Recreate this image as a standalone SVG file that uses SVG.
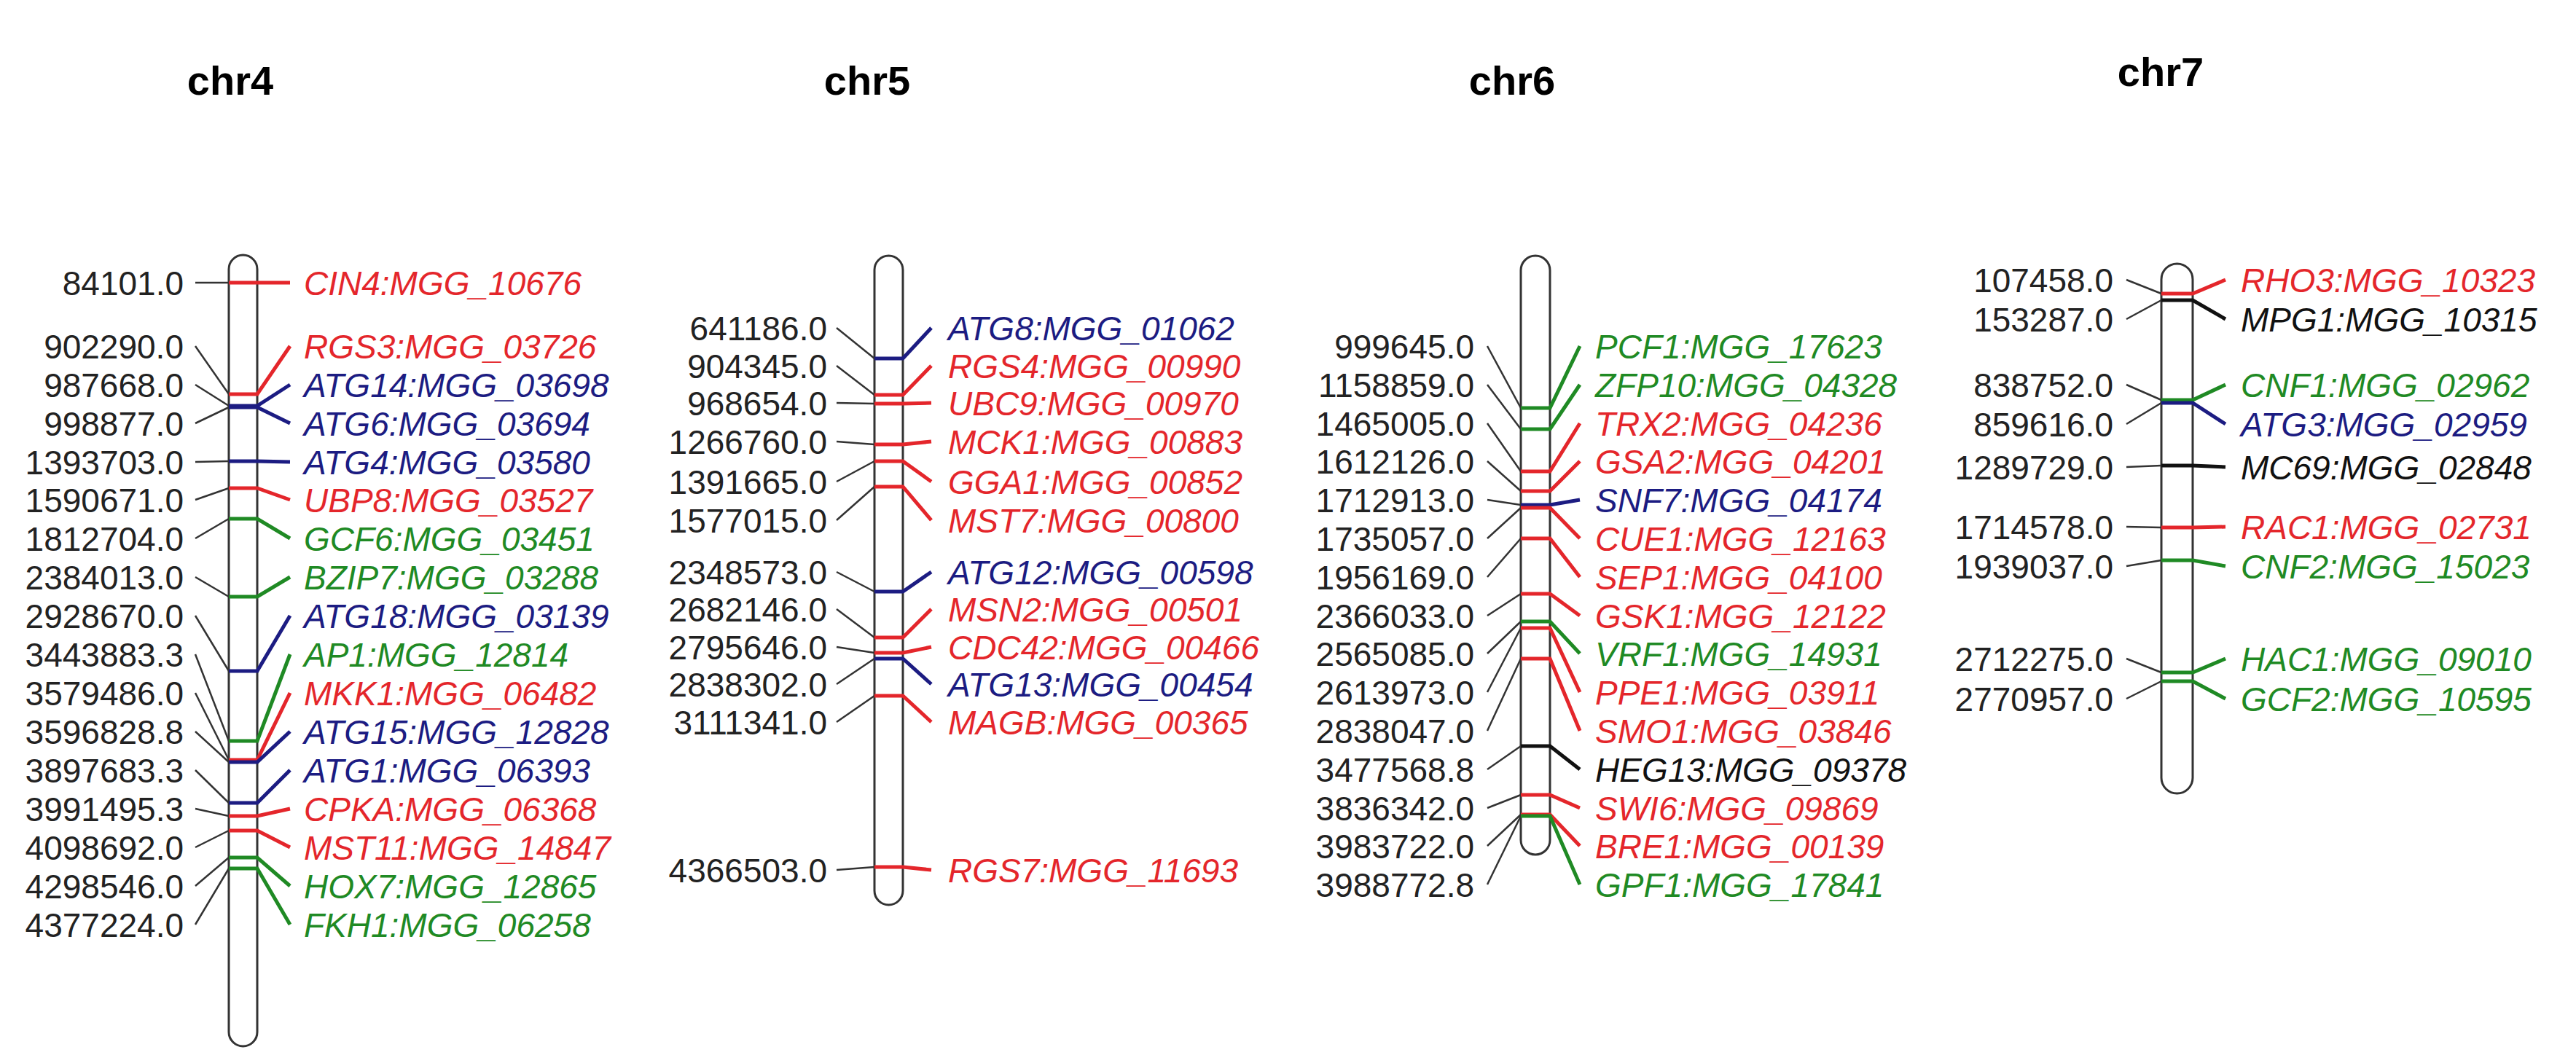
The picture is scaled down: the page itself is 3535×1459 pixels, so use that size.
<svg xmlns="http://www.w3.org/2000/svg" width="3535" height="1459" viewBox="0 0 3535 1459">
<style>
.t{font-family:"Liberation Sans",Arial,sans-serif;font-weight:bold;font-size:56px;fill:#000;text-anchor:middle}
.n{font-family:"Liberation Sans",Arial,sans-serif;font-size:46px;fill:#222;text-anchor:end}
.g{font-family:"Liberation Sans",Arial,sans-serif;font-size:46px;font-style:italic}
.chr{fill:#fff;stroke:#333;stroke-width:3}
.k{stroke:#333;stroke-width:2.5;fill:none}
.r{fill:#e4262b;stroke:#e4262b}
.b{fill:#1c1c82;stroke:#1c1c82}
.gr{fill:#1f8a24;stroke:#1f8a24}
.bk{fill:#111;stroke:#111}
polyline.m{stroke-width:5;fill:none}
text.r,text.b,text.gr,text.bk{stroke:none}
</style>
<rect width="3535" height="1459" fill="#fff"/>
<g id="chr4">
<text class="t" x="316" y="130">chr4</text>
<rect class="chr" x="314" y="350" width="39" height="1086" rx="19.5"/>
</g>
<g id="chr5">
<text class="t" x="1190" y="130">chr5</text>
<rect class="chr" x="1200" y="351" width="39" height="891" rx="19.5"/>
</g>
<g id="chr6">
<text class="t" x="2075" y="130">chr6</text>
<rect class="chr" x="2087" y="351" width="40" height="822" rx="20"/>
</g>
<g id="chr7">
<text class="t" x="2965" y="118">chr7</text>
<rect class="chr" x="2966" y="362" width="43" height="727" rx="21.5"/>
</g>
<g id="connectors">
<polyline class="k" points="268,388 314,388"/><polyline class="m r" points="314,388 353,388 398,388"/>
<polyline class="k" points="268,475 314,541"/><polyline class="m r" points="314,541 353,541 398,475"/>
<polyline class="k" points="268,528 314,557"/><polyline class="m b" points="314,557 353,557 398,528"/>
<polyline class="k" points="268,581 314,559"/><polyline class="m b" points="314,559 353,559 398,581"/>
<polyline class="k" points="268,634 314,633"/><polyline class="m b" points="314,633 353,633 398,634"/>
<polyline class="k" points="268,686 314,670"/><polyline class="m r" points="314,670 353,670 398,686"/>
<polyline class="k" points="268,739 314,712"/><polyline class="m gr" points="314,712 353,712 398,739"/>
<polyline class="k" points="268,792 314,819"/><polyline class="m gr" points="314,819 353,819 398,792"/>
<polyline class="k" points="268,845 314,921"/><polyline class="m b" points="314,921 353,921 398,845"/>
<polyline class="k" points="268,898 314,1017"/><polyline class="m gr" points="314,1017 353,1017 398,898"/>
<polyline class="k" points="268,951 314,1043"/><polyline class="m r" points="314,1043 353,1043 398,951"/>
<polyline class="k" points="268,1004 314,1046"/><polyline class="m b" points="314,1046 353,1046 398,1004"/>
<polyline class="k" points="268,1057 314,1102"/><polyline class="m b" points="314,1102 353,1102 398,1057"/>
<polyline class="k" points="268,1110 314,1120"/><polyline class="m r" points="314,1120 353,1120 398,1110"/>
<polyline class="k" points="268,1163 314,1140"/><polyline class="m r" points="314,1140 353,1140 398,1163"/>
<polyline class="k" points="268,1216 314,1177"/><polyline class="m gr" points="314,1177 353,1177 398,1216"/>
<polyline class="k" points="268,1269 314,1192"/><polyline class="m gr" points="314,1192 353,1192 398,1269"/>
<polyline class="k" points="1148,450 1200,492"/><polyline class="m b" points="1200,492 1239,492 1278,450"/>
<polyline class="k" points="1148,502 1200,542"/><polyline class="m r" points="1200,542 1239,542 1278,502"/>
<polyline class="k" points="1148,553 1200,554"/><polyline class="m r" points="1200,554 1239,554 1278,553"/>
<polyline class="k" points="1148,606 1200,610"/><polyline class="m r" points="1200,610 1239,610 1278,606"/>
<polyline class="k" points="1148,661 1200,633"/><polyline class="m r" points="1200,633 1239,633 1278,661"/>
<polyline class="k" points="1148,714 1200,668"/><polyline class="m r" points="1200,668 1239,668 1278,714"/>
<polyline class="k" points="1148,785 1200,812"/><polyline class="m b" points="1200,812 1239,812 1278,785"/>
<polyline class="k" points="1148,836 1200,875"/><polyline class="m r" points="1200,875 1239,875 1278,836"/>
<polyline class="k" points="1148,888 1200,896"/><polyline class="m r" points="1200,896 1239,896 1278,888"/>
<polyline class="k" points="1148,939 1200,904"/><polyline class="m b" points="1200,904 1239,904 1278,939"/>
<polyline class="k" points="1148,991 1200,955"/><polyline class="m r" points="1200,955 1239,955 1278,991"/>
<polyline class="k" points="1148,1194 1200,1190"/><polyline class="m r" points="1200,1190 1239,1190 1278,1194"/>
<polyline class="k" points="2041,475 2087,560"/><polyline class="m gr" points="2087,560 2127,560 2168,475"/>
<polyline class="k" points="2041,528 2087,589"/><polyline class="m gr" points="2087,589 2127,589 2168,528"/>
<polyline class="k" points="2041,581 2087,647"/><polyline class="m r" points="2087,647 2127,647 2168,581"/>
<polyline class="k" points="2041,633 2087,674"/><polyline class="m r" points="2087,674 2127,674 2168,633"/>
<polyline class="k" points="2041,686 2087,693"/><polyline class="m b" points="2087,693 2127,693 2168,686"/>
<polyline class="k" points="2041,739 2087,697"/><polyline class="m r" points="2087,697 2127,697 2168,739"/>
<polyline class="k" points="2041,792 2087,739"/><polyline class="m r" points="2087,739 2127,739 2168,792"/>
<polyline class="k" points="2041,845 2087,815"/><polyline class="m r" points="2087,815 2127,815 2168,845"/>
<polyline class="k" points="2041,897 2087,853"/><polyline class="m gr" points="2087,853 2127,853 2168,897"/>
<polyline class="k" points="2041,950 2087,862"/><polyline class="m r" points="2087,862 2127,862 2168,950"/>
<polyline class="k" points="2041,1003 2087,904"/><polyline class="m r" points="2087,904 2127,904 2168,1003"/>
<polyline class="k" points="2041,1056 2087,1024"/><polyline class="m bk" points="2087,1024 2127,1024 2168,1056"/>
<polyline class="k" points="2041,1109 2087,1091"/><polyline class="m r" points="2087,1091 2127,1091 2168,1109"/>
<polyline class="k" points="2041,1161 2087,1118"/><polyline class="m r" points="2087,1118 2127,1118 2168,1161"/>
<polyline class="k" points="2041,1214 2087,1120"/><polyline class="m gr" points="2087,1120 2127,1120 2168,1214"/>
<polyline class="k" points="2918,384 2966,403"/><polyline class="m r" points="2966,403 3009,403 3054,384"/>
<polyline class="k" points="2918,438 2966,412"/><polyline class="m bk" points="2966,412 3009,412 3054,438"/>
<polyline class="k" points="2918,528 2966,549"/><polyline class="m gr" points="2966,549 3009,549 3054,528"/>
<polyline class="k" points="2918,582 2966,553"/><polyline class="m b" points="2966,553 3009,553 3054,582"/>
<polyline class="k" points="2918,641 2966,639"/><polyline class="m bk" points="2966,639 3009,639 3054,641"/>
<polyline class="k" points="2918,723 2966,724"/><polyline class="m r" points="2966,724 3009,724 3054,723"/>
<polyline class="k" points="2918,777 2966,769"/><polyline class="m gr" points="2966,769 3009,769 3054,777"/>
<polyline class="k" points="2918,904 2966,923"/><polyline class="m gr" points="2966,923 3009,923 3054,904"/>
<polyline class="k" points="2918,959 2966,935"/><polyline class="m gr" points="2966,935 3009,935 3054,959"/>
</g>
<g id="labels-chr4">
<text class="n" x="252" y="405">84101.0</text><text class="g r" x="417" y="405">CIN4:MGG_10676</text>
<text class="n" x="252" y="492">902290.0</text><text class="g r" x="417" y="492">RGS3:MGG_03726</text>
<text class="n" x="252" y="545">987668.0</text><text class="g b" x="417" y="545">ATG14:MGG_03698</text>
<text class="n" x="252" y="598">998877.0</text><text class="g b" x="417" y="598">ATG6:MGG_03694</text>
<text class="n" x="252" y="651">1393703.0</text><text class="g b" x="417" y="651">ATG4:MGG_03580</text>
<text class="n" x="252" y="703">1590671.0</text><text class="g r" x="417" y="703">UBP8:MGG_03527</text>
<text class="n" x="252" y="756">1812704.0</text><text class="g gr" x="417" y="756">GCF6:MGG_03451</text>
<text class="n" x="252" y="809">2384013.0</text><text class="g gr" x="417" y="809">BZIP7:MGG_03288</text>
<text class="n" x="252" y="862">2928670.0</text><text class="g b" x="417" y="862">ATG18:MGG_03139</text>
<text class="n" x="252" y="915">3443883.3</text><text class="g gr" x="417" y="915">AP1:MGG_12814</text>
<text class="n" x="252" y="968">3579486.0</text><text class="g r" x="417" y="968">MKK1:MGG_06482</text>
<text class="n" x="252" y="1021">3596828.8</text><text class="g b" x="417" y="1021">ATG15:MGG_12828</text>
<text class="n" x="252" y="1074">3897683.3</text><text class="g b" x="417" y="1074">ATG1:MGG_06393</text>
<text class="n" x="252" y="1127">3991495.3</text><text class="g r" x="417" y="1127">CPKA:MGG_06368</text>
<text class="n" x="252" y="1180">4098692.0</text><text class="g r" x="417" y="1180">MST11:MGG_14847</text>
<text class="n" x="252" y="1233">4298546.0</text><text class="g gr" x="417" y="1233">HOX7:MGG_12865</text>
<text class="n" x="252" y="1286">4377224.0</text><text class="g gr" x="417" y="1286">FKH1:MGG_06258</text>
</g>
<g id="labels-chr5">
<text class="n" x="1135" y="467">641186.0</text><text class="g b" x="1301" y="467">ATG8:MGG_01062</text>
<text class="n" x="1135" y="519">904345.0</text><text class="g r" x="1301" y="519">RGS4:MGG_00990</text>
<text class="n" x="1135" y="570">968654.0</text><text class="g r" x="1301" y="570">UBC9:MGG_00970</text>
<text class="n" x="1135" y="623">1266760.0</text><text class="g r" x="1301" y="623">MCK1:MGG_00883</text>
<text class="n" x="1135" y="678">1391665.0</text><text class="g r" x="1301" y="678">GGA1:MGG_00852</text>
<text class="n" x="1135" y="731">1577015.0</text><text class="g r" x="1301" y="731">MST7:MGG_00800</text>
<text class="n" x="1135" y="802">2348573.0</text><text class="g b" x="1301" y="802">ATG12:MGG_00598</text>
<text class="n" x="1135" y="853">2682146.0</text><text class="g r" x="1301" y="853">MSN2:MGG_00501</text>
<text class="n" x="1135" y="905">2795646.0</text><text class="g r" x="1301" y="905">CDC42:MGG_00466</text>
<text class="n" x="1135" y="956">2838302.0</text><text class="g b" x="1301" y="956">ATG13:MGG_00454</text>
<text class="n" x="1135" y="1008">3111341.0</text><text class="g r" x="1301" y="1008">MAGB:MGG_00365</text>
<text class="n" x="1135" y="1211">4366503.0</text><text class="g r" x="1301" y="1211">RGS7:MGG_11693</text>
</g>
<g id="labels-chr6">
<text class="n" x="2023" y="492">999645.0</text><text class="g gr" x="2189" y="492">PCF1:MGG_17623</text>
<text class="n" x="2023" y="545">1158859.0</text><text class="g gr" x="2189" y="545">ZFP10:MGG_04328</text>
<text class="n" x="2023" y="598">1465005.0</text><text class="g r" x="2189" y="598">TRX2:MGG_04236</text>
<text class="n" x="2023" y="650">1612126.0</text><text class="g r" x="2189" y="650">GSA2:MGG_04201</text>
<text class="n" x="2023" y="703">1712913.0</text><text class="g b" x="2189" y="703">SNF7:MGG_04174</text>
<text class="n" x="2023" y="756">1735057.0</text><text class="g r" x="2189" y="756">CUE1:MGG_12163</text>
<text class="n" x="2023" y="809">1956169.0</text><text class="g r" x="2189" y="809">SEP1:MGG_04100</text>
<text class="n" x="2023" y="862">2366033.0</text><text class="g r" x="2189" y="862">GSK1:MGG_12122</text>
<text class="n" x="2023" y="914">2565085.0</text><text class="g gr" x="2189" y="914">VRF1:MGG_14931</text>
<text class="n" x="2023" y="967">2613973.0</text><text class="g r" x="2189" y="967">PPE1:MGG_03911</text>
<text class="n" x="2023" y="1020">2838047.0</text><text class="g r" x="2189" y="1020">SMO1:MGG_03846</text>
<text class="n" x="2023" y="1073">3477568.8</text><text class="g bk" x="2189" y="1073">HEG13:MGG_09378</text>
<text class="n" x="2023" y="1126">3836342.0</text><text class="g r" x="2189" y="1126">SWI6:MGG_09869</text>
<text class="n" x="2023" y="1178">3983722.0</text><text class="g r" x="2189" y="1178">BRE1:MGG_00139</text>
<text class="n" x="2023" y="1231">3988772.8</text><text class="g gr" x="2189" y="1231">GPF1:MGG_17841</text>
</g>
<g id="labels-chr7">
<text class="n" x="2900" y="401">107458.0</text><text class="g r" x="3075" y="401">RHO3:MGG_10323</text>
<text class="n" x="2900" y="455">153287.0</text><text class="g bk" x="3075" y="455">MPG1:MGG_10315</text>
<text class="n" x="2900" y="545">838752.0</text><text class="g gr" x="3075" y="545">CNF1:MGG_02962</text>
<text class="n" x="2900" y="599">859616.0</text><text class="g b" x="3075" y="599">ATG3:MGG_02959</text>
<text class="n" x="2900" y="658">1289729.0</text><text class="g bk" x="3075" y="658">MC69:MGG_02848</text>
<text class="n" x="2900" y="740">1714578.0</text><text class="g r" x="3075" y="740">RAC1:MGG_02731</text>
<text class="n" x="2900" y="794">1939037.0</text><text class="g gr" x="3075" y="794">CNF2:MGG_15023</text>
<text class="n" x="2900" y="921">2712275.0</text><text class="g gr" x="3075" y="921">HAC1:MGG_09010</text>
<text class="n" x="2900" y="976">2770957.0</text><text class="g gr" x="3075" y="976">GCF2:MGG_10595</text>
</g>
</svg>
